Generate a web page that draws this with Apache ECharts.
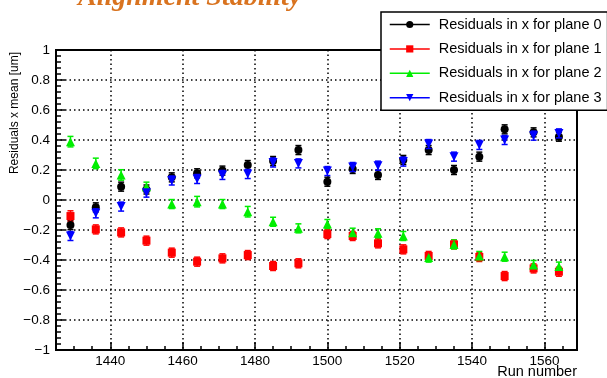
<!DOCTYPE html>
<html>
<head>
<meta charset="utf-8">
<script src="https://cdn.jsdelivr.net/npm/echarts@6/dist/echarts.min.js"></script>
<style>
  html, body { margin: 0; padding: 0; background: #fff; }
  #chart1 { width: 607px; height: 378px; }
</style>
</head>
<body>
<div id="chart1"></div>
<script>
const runs = [1429, 1436, 1443, 1450, 1457, 1464, 1471, 1478, 1485, 1492, 1500, 1507, 1514, 1521, 1528, 1535, 1542, 1549, 1557, 1564]

const plane0 = [-0.167, -0.049, 0.089, 0.07, 0.151, 0.178, 0.196, 0.233, 0.26, 0.333, 0.122, 0.207, 0.167, 0.267, 0.333, 0.2, 0.289, 0.471, 0.451, 0.422]
const plane1 = [-0.107, -0.196, -0.216, -0.271, -0.351, -0.411, -0.389, -0.367, -0.44, -0.422, -0.227, -0.24, -0.289, -0.329, -0.373, -0.296, -0.38, -0.507, -0.456, -0.478]
const plane2 = [0.389, 0.244, 0.167, 0.089, -0.027, -0.011, -0.027, -0.078, -0.145, -0.189, -0.16, -0.218, -0.222, -0.24, -0.384, -0.296, -0.373, -0.378, -0.433, -0.444]
const plane3 = [-0.24, -0.089, -0.044, 0.049, 0.13, 0.14, 0.167, 0.173, 0.25, 0.244, 0.193, 0.22, 0.229, 0.256, 0.373, 0.289, 0.367, 0.4, 0.429, 0.444]

// error bar half-lengths
const plane0Err = [0.03, 0.03, 0.03, 0.03, 0.03, 0.03, 0.03, 0.03, 0.03, 0.03, 0.03, 0.03, 0.03, 0.03, 0.03, 0.03, 0.03, 0.03, 0.03, 0.03]
const plane1Err = [0.035, 0.03, 0.03, 0.03, 0.03, 0.03, 0.03, 0.03, 0.03, 0.03, 0.03, 0.03, 0.03, 0.03, 0.03, 0.03, 0.03, 0.03, 0.03, 0.03]
const plane2Err = [0.035, 0.035, 0.035, 0.03, 0.03, 0.035, 0.03, 0.035, 0.03, 0.03, 0.03, 0.03, 0.03, 0.03, 0.03, 0.03, 0.03, 0.03, 0.03, 0.03]
const plane3Err = [0.03, 0.03, 0.03, 0.03, 0.03, 0.03, 0.03, 0.03, 0.03, 0.03, 0.03, 0.03, 0.03, 0.03, 0.03, 0.03, 0.03, 0.03, 0.03, 0.03]

const names = ['Residuals in x for plane 0', 'Residuals in x for plane 1', 'Residuals in x for plane 2', 'Residuals in x for plane 3']
const colors = ['#000000', '#ff0000', '#00ee00', '#0000ff']
const symbols = ['circle', 'rect', 'triangle', 'path://M0,0 L10,0 L5,9 Z']
const symbolSizes = [8, 8, 9, 9]

const FONT = '"Liberation Sans", Arial, sans-serif'

const pointSeries = (i, values) => ({
  name: names[i],
  type: 'line',
  data: runs.map((r, k) => [r, values[k]]),
  symbol: symbols[i],
  symbolSize: symbolSizes[i],
  showSymbol: true,
  itemStyle: { color: colors[i], opacity: 1 },
  lineStyle: { opacity: 0, width: 0 },
  z: 5 + i,
  silent: true
})

const errorSeries = (i, values, errors) => ({
  type: 'custom',
  data: runs.map((r, k) => [r, values[k] - errors[k], values[k] + errors[k]]),
  encode: { x: 0, y: [1, 2] },
  renderItem: (params, api) => {
    const lo = api.coord([api.value(0), api.value(1)])
    const hi = api.coord([api.value(0), api.value(2)])
    const st = { stroke: colors[i], lineWidth: 1.5 }
    return {
      type: 'group',
      children: [
        { type: 'line', shape: { x1: lo[0], y1: lo[1], x2: hi[0], y2: hi[1] }, style: st },
        { type: 'line', shape: { x1: lo[0] - 3, y1: lo[1], x2: lo[0] + 3, y2: lo[1] }, style: st },
        { type: 'line', shape: { x1: hi[0] - 3, y1: hi[1], x2: hi[0] + 3, y2: hi[1] }, style: st }
      ]
    }
  },
  z: 4 + i,
  silent: true
})

const chart1 = echarts.init(document.getElementById('chart1'))

chart1.setOption({
  animation: false,
  backgroundColor: '#fff',
  grid: {
    left: 56, right: 30, top: 50, bottom: 28,
    outerBoundsMode: 'none', containLabel: false,
    show: true, borderColor: '#000', borderWidth: 2, backgroundColor: 'transparent'
  },
  graphic: [
    {
      type: 'text', x: 78, y: 12, z: 100,
      style: {
        text: 'Alignment Stability', font: 'italic bold 28px "Liberation Serif", serif',
        fill: '#d9731f', verticalAlign: 'bottom',
        shadowColor: 'rgba(217,115,31,0.45)', shadowBlur: 4, shadowOffsetX: 2, shadowOffsetY: 2
      }
    },
    {
      type: 'text', x: 15, y: 52, rotation: Math.PI / 2, z: 100,
      style: {
        text: 'Residuals x mean [um]', font: '12px ' + FONT, fill: '#000',
        align: 'right', verticalAlign: 'middle'
      }
    },
    {
      type: 'text', x: 577, y: 372, z: 100,
      style: {
        text: 'Run number', font: '14.5px ' + FONT, fill: '#000',
        align: 'right', verticalAlign: 'middle'
      }
    }
  ],
  legend: {
    data: names,
    orient: 'vertical',
    left: 381, top: 12,
    padding: [5, 6, 5, 8],
    itemWidth: 40, itemHeight: 9, itemGap: 9.4,
    selectedMode: false,
    backgroundColor: '#fff',
    borderColor: '#000', borderWidth: 1.5, borderRadius: 0,
    lineStyle: { width: 1.5, opacity: 1 },
    textStyle: { fontFamily: FONT, fontSize: 14.5, color: '#000', lineHeight: 14, padding: [0, 0, 0, 4] },
    z: 50
  },
  xAxis: [
    {
      type: 'value', min: 1425, max: 1569, splitNumber: 7,
      axisLine: { show: true, onZero: false, lineStyle: { color: '#000', width: 2 } },
      axisTick: { show: true, inside: true, length: 8, lineStyle: { color: '#000', width: 1.5 } },
      axisLabel: {
        fontFamily: FONT, fontSize: 13.5, color: '#000', margin: 4,
        showMinLabel: false, showMaxLabel: false,
        formatter: v => String(v)
      },
      splitLine: { show: true, lineStyle: { color: '#000', width: 1.5, type: [1.5, 3] } }
    },
    {
      // minor ticks every 5 runs
      type: 'value', min: 1425, max: 1569, interval: 5, position: 'bottom', offset: 0,
      axisLine: { show: true, onZero: false, lineStyle: { color: '#000', width: 2 } },
      axisTick: { show: true, inside: true, length: 4, lineStyle: { color: '#000', width: 1.5 } },
      axisLabel: { show: false },
      splitLine: { show: false }
    }
  ],
  yAxis: {
    type: 'value', min: -1, max: 1, interval: 0.2,
    axisLine: { show: true, onZero: false, lineStyle: { color: '#000', width: 2 } },
    axisTick: { show: true, inside: true, length: 9, lineStyle: { color: '#000', width: 1.5 } },
    minorTick: { show: true, splitNumber: 5, length: 5, lineStyle: { color: '#000', width: 1.5 } },
    axisLabel: {
      fontFamily: FONT, fontSize: 13.5, color: '#000', margin: 6,
      formatter: v => String(Math.round(v * 10) / 10).replace('-', '\u2212')
    },
    splitLine: { show: true, lineStyle: { color: '#000', width: 1.5, type: [1.5, 3] } }
  },
  series: [
    errorSeries(0, plane0, plane0Err),
    pointSeries(0, plane0),
    errorSeries(1, plane1, plane1Err),
    pointSeries(1, plane1),
    errorSeries(2, plane2, plane2Err),
    pointSeries(2, plane2),
    errorSeries(3, plane3, plane3Err),
    pointSeries(3, plane3)
  ]
})
</script>
</body>
</html>
